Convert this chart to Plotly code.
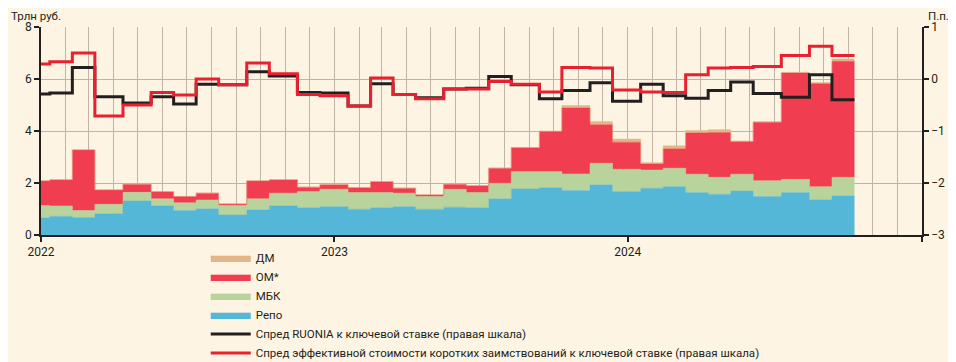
import plotly.graph_objects as go

# Reserve-averaging period start dates (first one starts before the visible range)
period_starts = [
    "2021-12-15", "2022-01-12", "2022-02-09", "2022-03-09", "2022-04-13", "2022-05-18",
    "2022-06-15", "2022-07-13", "2022-08-10", "2022-09-14", "2022-10-12", "2022-11-16",
    "2022-12-14", "2023-01-18", "2023-02-15", "2023-03-15", "2023-04-12", "2023-05-17",
    "2023-06-14", "2023-07-12", "2023-08-09", "2023-09-13", "2023-10-11", "2023-11-15",
    "2023-12-13", "2024-01-17", "2024-02-14", "2024-03-13", "2024-04-10", "2024-05-08",
    "2024-06-05", "2024-07-10", "2024-08-14", "2024-09-11",
]
last_period_end = "2024-10-09"

# Трлн руб.
repo = [0.66, 0.72, 0.67, 0.82, 1.31, 1.12, 0.94, 1.01, 0.77, 0.96, 1.12, 1.05,
        1.09, 0.99, 1.05, 1.09, 0.99, 1.07, 1.05, 1.39, 1.77, 1.82, 1.71, 1.93,
        1.67, 1.80, 1.86, 1.63, 1.57, 1.69, 1.48, 1.63, 1.35, 1.50]
mbk = [0.47, 0.40, 0.27, 0.36, 0.33, 0.27, 0.30, 0.34, 0.36, 0.43, 0.49, 0.62,
       0.67, 0.64, 0.58, 0.52, 0.49, 0.69, 0.58, 0.60, 0.67, 0.62, 0.64, 0.83,
       0.86, 0.70, 0.71, 0.71, 0.65, 0.65, 0.61, 0.51, 0.51, 0.72]
om = [0.95, 1.00, 2.33, 0.55, 0.31, 0.27, 0.24, 0.26, 0.06, 0.69, 0.51, 0.17,
      0.17, 0.19, 0.42, 0.19, 0.06, 0.19, 0.26, 0.58, 0.92, 1.54, 2.53, 1.48,
      1.04, 0.23, 0.74, 1.58, 1.72, 1.25, 2.25, 4.09, 3.96, 4.46]
dm = [0.01, 0.01, 0.01, 0.01, 0.01, 0.01, 0.01, 0.01, 0.01, 0.01, 0.01, 0.01,
      0.01, 0.01, 0.01, 0.01, 0.01, 0.01, 0.01, 0.01, 0.01, 0.02, 0.10, 0.13,
      0.12, 0.05, 0.12, 0.10, 0.11, 0.03, 0.02, 0.03, 0.05, 0.09]

# П.п. (правая шкала)
ruonia_spread = [-0.29, -0.27, 0.22, -0.34, -0.46, -0.34, -0.48, -0.10, -0.11, 0.14,
                 0.06, -0.26, -0.27, -0.52, -0.09, -0.30, -0.36, -0.19, -0.18, 0.05,
                 -0.11, -0.38, -0.22, -0.07, -0.43, -0.10, -0.32, -0.37, -0.22, -0.06,
                 -0.28, -0.35, 0.08, -0.40]
eff_spread = [0.29, 0.33, 0.50, -0.71, -0.50, -0.26, -0.31, 0.00, -0.11, 0.31,
              0.10, -0.30, -0.32, -0.52, 0.02, -0.30, -0.38, -0.19, -0.19, -0.05,
              -0.10, -0.25, 0.22, 0.21, -0.21, -0.25, -0.26, 0.08, 0.21, 0.22,
              0.24, 0.45, 0.63, 0.45]

year_ticks = ["2022-01-01", "2023-01-01", "2024-01-01", "2025-01-01"]
year_labels = ["2022", "2023", "2024", ""]

x = period_starts + [last_period_end]


def ext(v):
    return v + [v[-1]]


BG = "#fef4e3"
GRID = "#c2b4a4"
AX = "#231f20"
FONT = "Roboto"

fig = go.Figure()

areas = [
    ("Репо", repo, "#55b7d7", 4),
    ("МБК", mbk, "#b9d39d", 3),
    ("ОМ*", om, "#f03d4f", 2),
    ("ДМ", dm, "#e4b687", 1),
]
for name, vals, col, rank in areas:
    fig.add_trace(go.Scatter(
        x=x, y=ext(vals), name=name, stackgroup="one", mode="lines",
        line=dict(shape="hv", width=0.5, color=col), fillcolor=col,
        legendrank=rank,
    ))

fig.add_trace(go.Scatter(
    x=x, y=ext(ruonia_spread), name="Спред RUONIA к ключевой ставке (правая шкала)",
    mode="lines", line=dict(shape="hv", width=3, color="#231f20"), yaxis="y2",
    legendrank=5,
))
fig.add_trace(go.Scatter(
    x=x, y=ext(eff_spread),
    name="Спред эффективной стоимости коротких заимствований к ключевой ставке (правая шкала)",
    mode="lines", line=dict(shape="hv", width=3, color="#e8202f"), yaxis="y2",
    legendrank=6,
))

fig.update_layout(
    width=948, height=354,
    margin=dict(l=33, r=34, t=19, b=127, autoexpand=False),
    paper_bgcolor=BG, plot_bgcolor=BG,
    font=dict(family=FONT, size=12, color=AX),
    showlegend=True,
    legend=dict(
        orientation="v", x=0.187, y=-0.0404, xanchor="left", yanchor="top",
        traceorder="normal",
        font=dict(size=11.5, color=AX), bgcolor="rgba(0,0,0,0)",
        itemwidth=40, tracegroupgap=0,
    ),
    xaxis=dict(
        type="date", range=["2022-01-01", "2025-01-01"],
        tickmode="array", tickvals=year_ticks, ticktext=year_labels,
        ticks="outside", ticklen=5, tickcolor=AX, tickwidth=1.5,
        showline=True, linecolor=AX, linewidth=1.5,
        showgrid=True, gridcolor=GRID, gridwidth=1,
        minor=dict(dtick="M1", tick0="2022-01-01", showgrid=True, gridcolor=GRID, gridwidth=1),
        tickfont=dict(size=12, color=AX), zeroline=False,
    ),
    yaxis=dict(
        range=[0, 8], dtick=2, ticks="outside", ticklen=5, tickcolor=AX, tickwidth=1.5,
        showline=True, linecolor=AX, linewidth=1.5,
        showgrid=True, gridcolor=GRID, gridwidth=1, zeroline=False,
        tickfont=dict(size=12, color=AX),
    ),
    yaxis2=dict(
        range=[-3, 1], dtick=1, overlaying="y", side="right",
        ticks="outside", ticklen=5, tickcolor=AX, tickwidth=1.5,
        showline=True, linecolor=AX, linewidth=1.5,
        showgrid=False, zeroline=False,
        tickfont=dict(size=12, color=AX),
    ),
    annotations=[
        dict(text="Трлн руб.", xref="paper", yref="paper", x=-0.0352, y=1.091,
             xanchor="left", yanchor="top", showarrow=False, borderpad=0,
             font=dict(size=11.5, color=AX)),
        dict(text="П.п.", xref="paper", yref="paper", x=1.032, y=1.091,
             xanchor="right", yanchor="top", showarrow=False, borderpad=0,
             font=dict(size=11.5, color=AX)),
    ],
)

fig.write_html("out.html")
